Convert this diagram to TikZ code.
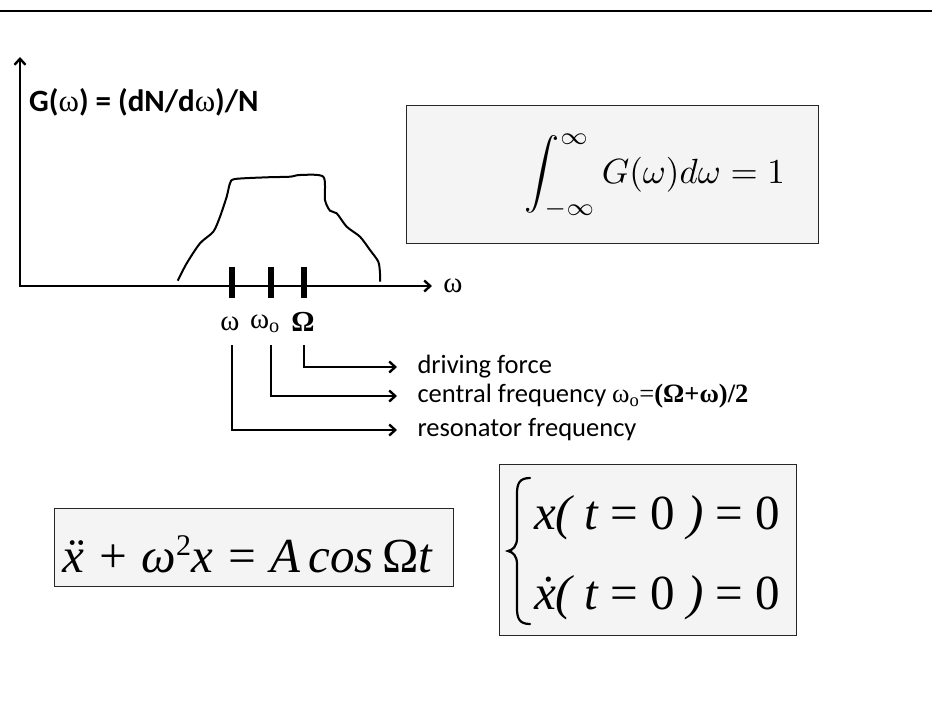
\documentclass[tikz,border=0pt]{standalone}
\usepackage{fontspec}
\usepackage{graphicx}
\newfontfamily\calib{Carlito}
\newfontfamily\tms{Liberation Serif}
\usetikzlibrary{arrows.meta}
\tikzset{
  axis/.style={line width=2.4pt,-{Straight Barb[length=6pt,width=11pt]}},
  conn/.style={line width=2.4pt,-{Straight Barb[length=6pt,width=11pt]},shorten >=17pt},
  tickmark/.style={line width=6pt},
  eqbox/.style={draw=black!85,fill=boxgray,line width=1pt,inner sep=0pt},
  note/.style={anchor=west,font=\calib\fontsize{26.5}{30}\selectfont},
  greek/.style={font=\tms\fontsize{29}{32}\selectfont},
  bigtms/.style={anchor=base west,inner sep=0pt,font=\tms\fontsize{49}{54}\selectfont}
}
\begin{document}
\begin{tikzpicture}[x=1pt,y=-1pt]
\definecolor{boxgray}{RGB}{244,244,244}
\useasboundingbox (0,0) rectangle (932,724);
\draw[line width=2.5pt] (0,11)--(932,11);
\coordinate (origin) at (20,286);
\coordinate (ytop) at (20,57);
\coordinate (xend) at (432,286);
\draw[axis] ([yshift=-1pt]origin)--(ytop);
\draw[axis] ([xshift=-1pt]origin)--(xend);
\node[greek] (waxis) at (453,286) {ω};
\node[anchor=west,inner sep=0pt,font=\calib\bfseries\fontsize{31}{34}\selectfont] (glabel) at (29,102)
  {G({\tms\mdseries ω}) = (dN/d{\tms\mdseries ω})/N};
\draw[line width=2pt,line join=round] plot[smooth,tension=0.45] coordinates {
  (177.7,280.7) (186.7,263.3) (200,243.3) (213.3,231.7) (220,216.7) (226.7,196.7)
  (230,183.3) (235,179) (266.7,177.3) (290,176.7) (300,175) (323.3,176.7) (325,200)
  (330,210.7) (336.7,213.3) (346.7,226.7) (360,236.7) (370,250) (378.3,261.7)
  (380,273.3) (380,281.7)};
\foreach \n/\x in {r/232,c/271,d/304}{
  \draw[tickmark] (\x,267)--(\x,298);
  \coordinate (t\n) at (\x,345);
}
\node[greek] (lr) at (230,324) {ω};
\node[greek] (lc) at (265,324) {ω\textsubscript{o}};
\node[greek] (ld) at (303,322) {\bfseries Ω};
\node[note] (drive) at (414,367) {driving force};
\node[note] (central) at (414,396) {central frequency {\tms ω\textsubscript{o}=\textbf{(Ω+ω)/2}}};
\node[note] (reson) at (414,430) {resonator frequency};
\draw[conn] (td) |- (drive.west);
\draw[conn] (tc) |- (central.west);
\draw[conn] (tr) |- (reson.west);
\node[eqbox,minimum width=412pt,minimum height=138pt] (normbox) at (612,174) {};
\node (norm) at (655,176) {\scalebox{3.5}{$\displaystyle\int_{-\infty}^{\infty} G(\omega)d\omega = 1$}};
\node[eqbox,minimum width=399pt,minimum height=78pt] (motionbox) at (253.5,547) {};
\node[bigtms] (motion) at (62,572)
  {\itshape ẍ + ω\raisebox{17pt}{\upshape\fontsize{30}{30}\selectfont 2}x = A\,cos\,{\upshape Ω}t};
\node[eqbox,minimum width=297pt,minimum height=171pt] (initbox) at (647.5,549.5) {};
\draw[line width=2.2pt,line cap=round] (530,478) .. controls (519,478) and (517,484) .. (517,494)
  -- (517,538) .. controls (517,546) and (513,550) .. (508,551)
  .. controls (513,552) and (517,556) .. (517,564) -- (517,608)
  .. controls (517,618) and (519,624) .. (530,624);
\node[bigtms] (init1) at (534,529) {{\itshape x( t} = 0 {\itshape )} = 0};
\node[bigtms] (init2) at (534,609) {{\itshape ẋ( t} = 0 {\itshape )} = 0};
\end{tikzpicture}
\end{document}
